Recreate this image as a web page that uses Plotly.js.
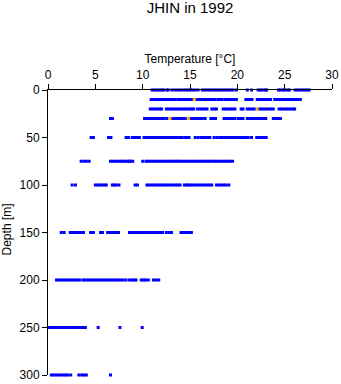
<!DOCTYPE html>
<html>
<head>
<meta charset="utf-8">
<script src="https://cdn.plot.ly/plotly-3.0.1.min.js"></script>
<style>html,body{margin:0;padding:0;background:#fff;}</style>
</head>
<body>
<div id="chart" style="width:341px;height:384px;"></div>
<script>
// Depth levels [m]
var depths = [0, 10, 20, 30, 50, 75, 100, 150, 200, 250, 300];
// Temperatures [°C] observed at each depth level
var temps0 = [11.0,11.25,11.5,11.75,12.0,12.2,12.55,12.7,13.1,13.4,13.7,14.0,14.3,14.55,14.8,15.05,15.3,15.55,15.85,
  16.3,16.55,16.8,17.05,17.3,17.55,17.8,18.05,18.3,18.55,18.8,19.05,19.3,19.55,19.9,21.05,21.5,
  22.2,22.45,22.7,22.95,23.1,24.35,24.55,24.8,25.0,25.3,25.5,26.1,26.35,26.6,26.85,27.1,27.35,27.6];
var temps10 = [10.9,11.15,11.4,11.65,11.9,12.2,12.5,12.7,12.9,13.15,13.4,13.7,13.95,14.2,14.45,14.7,14.95,15.2,
  15.65,15.9,16.15,16.4,16.65,16.9,17.15,17.4,17.65,17.95,18.15,18.4,18.7,18.9,19.15,19.4,19.65,19.9,
  20.9,21.15,21.35,21.55,22.1,22.35,22.6,22.85,23.1,23.3,23.5,23.95,24.25,24.55,24.75,25.0,
  25.15,25.4,25.65,25.9,26.15,26.4,26.65];
var temps20 = [10.8,11.05,11.3,11.55,11.8,12.0,12.5,12.75,13.0,13.25,13.5,13.75,14.0,14.25,14.5,14.75,15.0,15.2,15.4,
  15.8,16.05,16.3,16.55,16.8,17.3,17.55,17.8,18.5,18.75,19.0,19.25,19.5,19.75,20.4,20.6,
  21.05,21.3,21.55,21.8,22.3,22.55,22.8,23.05,23.3,23.55,23.8,24.4,24.65,24.9,25.15,25.4,25.65,25.9,26.05];
var temps30 = [6.6,6.8,10.2,10.4,10.6,10.85,11.1,11.35,11.6,11.85,12.0,12.25,12.55,13.1,13.35,13.6,13.85,14.1,14.3,14.5,
  15.05,15.3,15.55,15.8,16.05,16.3,16.6,17.2,17.45,17.7,18.6,18.85,19.1,19.35,19.6,19.75,20.1,20.35,20.6,
  21.05,21.3,21.55,21.8,22.05,22.3,22.55,22.8,23.0,23.8,24.05,24.35,24.55];
var temps50 = [4.55,4.8,6.4,6.65,8.25,8.5,8.9,9.15,9.4,9.65,10.15,10.4,10.65,10.9,11.15,11.4,11.65,11.9,12.15,12.4,
  12.65,12.9,13.15,13.4,13.65,13.9,14.15,14.45,14.65,14.9,15.55,15.85,16.15,16.4,16.6,16.85,17.1,17.55,17.85,
  18.15,18.4,18.65,18.9,19.15,19.4,19.65,19.9,20.15,20.4,20.65,20.9,21.15,21.5,22.05,22.3,22.55,22.8,23.05];
var temps75 = [3.5,3.8,4.05,4.35,6.6,6.85,7.1,7.35,7.6,7.8,7.95,8.2,8.4,8.6,8.7,8.95,10.0,10.35,
  10.55,10.8,11.05,11.3,11.55,11.8,12.05,12.3,12.55,12.8,13.05,13.25,13.45,13.7,
  13.85,14.1,14.35,14.6,14.85,15.1,15.35,15.6,15.85,16.1,16.35,16.6,16.85,
  17.0,17.25,17.5,17.75,18.0,18.25,18.5,18.75,19.0,19.25,19.5];
var temps100 = [2.55,2.9,5.0,5.25,5.5,5.75,6.0,6.15,6.8,7.0,7.2,7.5,9.2,9.45,
  10.45,10.7,10.95,11.2,11.45,11.7,11.95,12.2,12.45,12.7,12.95,13.2,13.45,13.7,13.95,14.4,14.65,
  14.8,15.05,15.3,15.55,15.8,16.05,16.3,16.55,16.8,17.05,17.3,17.8,18.05,18.3,18.55,18.8,19.1];
var temps150 = [1.4,1.7,2.35,2.6,2.85,3.1,3.35,3.55,3.75,4.5,4.8,5.55,5.75,6.3,6.55,6.8,7.05,7.25,7.45,
  8.6,8.85,9.1,9.35,9.6,9.8,9.95,10.2,10.45,10.7,10.95,11.2,11.45,11.7,11.9,12.1,12.5,12.8,13.05,
  14.05,14.3,14.55,14.85,15.15];
var temps200 = [0.9,1.15,1.4,1.65,1.9,2.15,2.4,2.65,2.9,3.15,3.4,3.75,3.95,4.2,4.45,4.7,4.95,5.2,5.45,5.7,5.95,6.2,
  6.45,6.7,6.95,7.2,7.45,7.7,7.95,8.25,8.6,8.85,9.1,9.3,9.85,10.05,10.3,10.6,11.15,11.45,11.7];
var temps250 = [0.15,0.4,0.65,0.9,1.15,1.4,1.65,1.9,2.15,2.4,2.65,2.9,3.15,3.4,3.65,3.95,5.3,7.6,9.95];
var temps300 = [0.35,0.6,0.85,1.1,1.35,1.6,1.85,2.1,2.4,3.25,3.55,3.8,4.05,6.6];
// Second group of observations (orange)
var orangeTemps = [15.45, 22.1, 12.9, 14.85];
var orangeDepths = [10, 20, 30, 30];

var tempsByDepth = [temps0, temps10, temps20, temps30, temps50, temps75, temps100, temps150, temps200, temps250, temps300];
var bx = [], by = [];
tempsByDepth.forEach(function (arr, i) {
  arr.forEach(function (t) { bx.push(t); by.push(depths[i]); });
});

var fam = 'Liberation Sans, Arial, Helvetica, sans-serif';
var tickFont = {family: fam, size: 12, color: '#000'};
var labFont = {family: fam, size: 12, color: '#000'};

var traces = [
  {x: bx, y: by, type: 'scatter', mode: 'markers', cliponaxis: false,
   marker: {symbol: 'square', size: 3, color: '#0000ff', line: {width: 0}}},
  {x: orangeTemps, y: orangeDepths, type: 'scatter', mode: 'markers', cliponaxis: false,
   marker: {symbol: 'square', size: 3, color: '#ffa500', line: {width: 0}}}
];

var layout = {
  width: 341, height: 384,
  margin: {l: 48, r: 9, t: 90, b: 9},
  paper_bgcolor: '#fff', plot_bgcolor: '#fff',
  showlegend: false,
  font: tickFont,
  title: {text: 'JHIN in 1992', font: {family: fam, size: 15, color: '#000'},
          x: 0.5, xref: 'paper', xanchor: 'center', y: 1, yref: 'container', yanchor: 'top',
          pad: {t: 2}},
  xaxis: {
    side: 'top', range: [0, 30], tickvals: [0, 5, 10, 15, 20, 25, 30],
    ticks: 'outside', ticklen: 5, tickwidth: 1, tickcolor: '#000',
    showline: true, linecolor: '#000', linewidth: 1, showgrid: false, zeroline: false,
    tickfont: tickFont, title: {text: 'Temperature [°C]', font: labFont, standoff: 2}
  },
  yaxis: {
    range: [300, 0], tickvals: [0, 50, 100, 150, 200, 250, 300],
    ticks: 'outside', ticklen: 5, tickwidth: 1, tickcolor: '#000',
    showline: true, linecolor: '#000', linewidth: 1, showgrid: false, zeroline: false,
    tickfont: tickFont
  },
  annotations: [{
    text: 'Depth [m]', textangle: -90, showarrow: false, font: labFont,
    xref: 'paper', yref: 'paper', x: -0.145, y: 0.51, xanchor: 'center', yanchor: 'middle'
  }]
};

Plotly.newPlot('chart', traces, layout, {staticPlot: true, displayModeBar: false});
</script>
</body>
</html>
